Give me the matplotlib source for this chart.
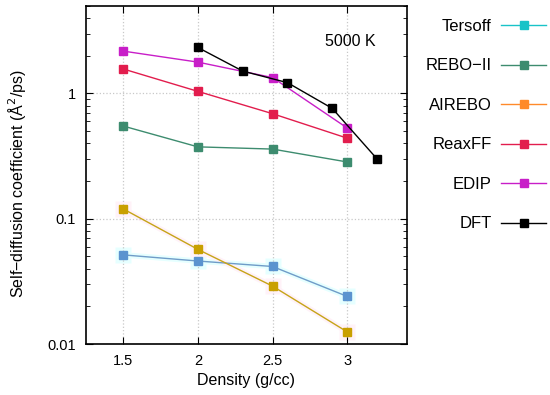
import matplotlib.pyplot as plt
import numpy as np
from matplotlib.lines import Line2D
from matplotlib.ticker import FixedLocator, LogLocator, NullFormatter

plt.rcParams['font.family'] = ['Liberation Sans', 'DejaVu Sans']

density = [1.5, 2.0, 2.5, 3.0]
tersoff = [0.0515, 0.046, 0.0416, 0.024]
rebo2 = [0.55, 0.375, 0.36, 0.284]
airebo = [0.12, 0.057, 0.029, 0.0125]
reaxff = [1.57, 1.04, 0.69, 0.44]
edip = [2.18, 1.78, 1.34, 0.53]
dft_density = [2.0, 2.3, 2.6, 2.9, 3.2]
dft = [2.33, 1.51, 1.22, 0.76, 0.30]

labels = ["Tersoff", "REBO\u2212II", "AIREBO", "ReaxFF", "EDIP", "DFT"]
colors = ["#19c3c8", "#3d8c6f", "#ff8a2a", "#e21d4d", "#c81ec8", "#000000"]

fig = plt.figure(figsize=(5.5, 3.95), dpi=100)
ax = fig.add_axes([0.156, 0.129, 0.584, 0.856])

# faint halos seen around the overlapping series
ax.plot(density, tersoff, color="#e6ffff", lw=4, marker="s", ms=11, mec="none", zorder=1)
ax.plot(density, airebo, color="#fff2f8", lw=4, marker="s", ms=11, mec="none", zorder=1)

ax.plot(density, tersoff, color="#6f9cc8", lw=1, marker="s", ms=6, mfc="#5b93cf", mec="#5b93cf", zorder=3)
ax.plot(density, rebo2, color=colors[1], lw=1, marker="s", ms=6, zorder=3)
ax.plot(density, airebo, color="#c6a418", lw=1, marker="s", ms=6, mfc="#c9a000", mec="#c9a000", zorder=3)
ax.plot(density, reaxff, color=colors[3], lw=1, marker="s", ms=6, zorder=3)
ax.plot(density, edip, color=colors[4], lw=1, marker="s", ms=6, zorder=3)
ax.plot(dft_density, dft, color=colors[5], lw=1, marker="s", ms=6, zorder=4)

ax.set_yscale("log")
ax.set_xlim(1.25, 3.4)
ax.set_ylim(0.01, 5)
ax.set_xticks([1.5, 2, 2.5, 3])
ax.set_xticklabels(["1.5", "2", "2.5", "3"])
ax.yaxis.set_major_locator(FixedLocator([0.01, 0.1, 1]))
ax.set_yticklabels(["0.01", "0.1", "1"])
ax.yaxis.set_minor_locator(LogLocator(base=10, subs=np.arange(2, 10)))
ax.yaxis.set_minor_formatter(NullFormatter())
ax.tick_params(which="both", direction="in", top=True, right=True, labelsize=10.5)
ax.tick_params(which="major", length=5, pad=7)
ax.tick_params(which="minor", length=3)
ax.grid(True, which="major", color="#c8c8c8", ls=":", lw=0.9)
for s in ax.spines.values():
    s.set_linewidth(1.2)

ax.set_xlabel("Density (g/cc)", fontsize=11.5)
ax.set_ylabel("Self\u2212diffusion coefficient (\u00c5$^2$/ps)", fontsize=11.5)
ax.yaxis.set_label_coords(-0.18, 0.475)
ax.text(0.822, 0.896, "5000 K", transform=ax.transAxes, ha="center", va="center", fontsize=11.5)

handles = [Line2D([], [], color=c, lw=1, marker="s", ms=6) for c in colors]
fig.legend(handles, labels, loc="upper right", bbox_to_anchor=(1.02, 0.99),
           frameon=False, markerfirst=False, fontsize=12, labelspacing=1.47,
           handlelength=2.7, handletextpad=0.55)

fig.savefig("out.png", dpi=100)
